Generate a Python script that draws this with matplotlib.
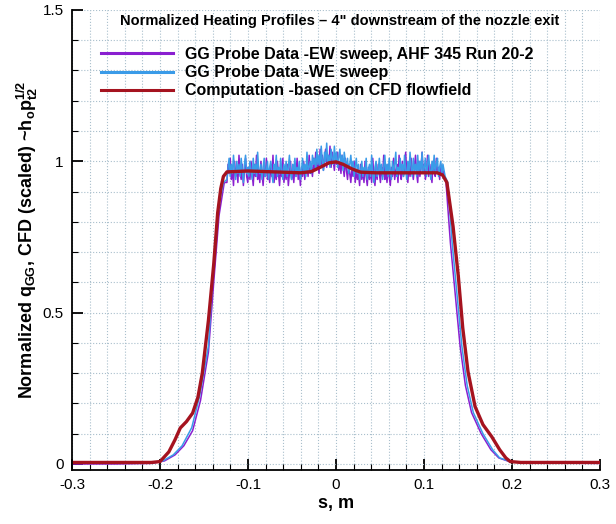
import numpy as np
import matplotlib
matplotlib.use("Agg")
import matplotlib.pyplot as plt
from matplotlib.ticker import MultipleLocator

# --- Data ---
# computation based on CFD flowfield
s_cfd = [-0.3, -0.21, -0.2, -0.19, -0.183, -0.177, -0.17, -0.163, -0.157, -0.152,
         -0.145, -0.139, -0.1345, -0.131, -0.128, -0.124, -0.1, -0.07, -0.04, -0.028,
         -0.018, -0.008, 0.0, 0.008, 0.018, 0.028, 0.045, 0.08, 0.115, 0.121,
         0.126, 0.133, 0.139, 0.144, 0.15, 0.158, 0.167, 0.177, 0.186, 0.193,
         0.198, 0.21, 0.3]
q_cfd = [0.005, 0.005, 0.008, 0.04, 0.08, 0.119, 0.14, 0.168, 0.22, 0.30,
         0.475, 0.66, 0.83, 0.91, 0.95, 0.965, 0.968, 0.965, 0.962, 0.966,
         0.98, 0.995, 0.998, 0.99, 0.975, 0.964, 0.962, 0.962, 0.962, 0.955,
         0.93, 0.785, 0.62, 0.45, 0.305, 0.19, 0.13, 0.09, 0.047, 0.02,
         0.008, 0.005, 0.005]

# GG probe, EW sweep: flanks + plateau
s_ew_left = [-0.3, -0.25, -0.21, -0.195, -0.183, -0.173, -0.163, -0.154, -0.145, -0.139, -0.133, -0.127]
q_ew_left = [0.0, 0.0, 0.002, 0.01, 0.03, 0.06, 0.11, 0.21, 0.37, 0.60, 0.82, 0.93]
s_ew_right = [0.125, 0.130, 0.1355, 0.141, 0.147, 0.154, 0.165, 0.176, 0.185, 0.197, 0.22, 0.3]
q_ew_right = [0.93, 0.73, 0.56, 0.39, 0.26, 0.17, 0.10, 0.047, 0.02, 0.008, 0.003, 0.002]
q_ew_plateau = [
    0.93, 0.99, 0.96, 1.01, 0.94, 0.97, 0.92, 1.00, 0.95, 0.98,
    0.93, 1.02, 0.96, 0.94, 0.99, 0.92, 0.97, 1.01, 0.95, 0.93,
    0.98, 0.94, 1.00, 0.96, 0.92, 0.99, 0.95, 1.02, 0.94, 0.97,
    0.93, 1.00, 0.96, 0.92, 0.98, 0.95, 1.01, 0.94, 0.97, 0.93,
    0.99, 0.95, 1.02, 0.93, 0.97, 0.94, 1.00, 0.96, 0.92, 0.98,
    0.95, 1.01, 0.93, 0.97, 0.94, 0.99, 0.92, 0.96, 1.00, 0.94,
    0.97, 0.93, 0.99, 0.95, 1.01, 0.94, 0.97, 0.92, 0.98, 0.95,
    1.00, 0.94, 0.97, 0.99, 0.95, 1.02, 0.96, 0.98, 0.95, 1.01,
    0.97, 1.03, 0.98, 1.00, 0.96, 1.04, 0.99, 1.02, 0.97, 1.01,
    1.04, 0.98, 1.02, 0.99, 1.05, 0.98, 1.03, 1.00, 0.97, 1.02,
    0.99, 1.03, 0.97, 1.00, 0.96, 1.02, 0.98, 0.95, 1.01, 0.97,
    0.94, 0.99, 0.96, 0.93, 0.98, 0.95, 1.00, 0.93, 0.97, 0.94,
    0.96, 0.92, 0.99, 0.94, 0.97, 0.93, 1.00, 0.95, 0.92, 0.98,
    0.94, 0.97, 0.93, 1.01, 0.95, 0.92, 0.98, 0.94, 0.99, 0.96,
    0.93, 0.98, 0.95, 1.02, 0.94, 0.97, 0.93, 0.99, 0.95, 0.92,
    0.98, 0.95, 1.01, 0.94, 0.97, 0.99, 0.93, 1.02, 0.96, 0.94,
    1.00, 0.95, 0.97, 1.03, 0.96, 0.93, 0.99, 0.95, 1.01, 0.97,
    0.94, 0.98, 1.02, 0.96, 0.93, 1.00, 0.95, 0.98, 1.03, 0.96,
    0.99, 0.94, 0.97, 1.02, 0.95, 0.99, 0.96, 0.93, 1.00, 0.97,
    0.95, 1.01, 0.96, 0.98, 0.94, 0.99, 0.96, 0.97, 0.95, 0.94]

# GG probe, WE sweep
s_we_left = [-0.3, -0.25, -0.21, -0.197, -0.185, -0.175, -0.164, -0.155, -0.145, -0.14, -0.134, -0.128]
q_we_left = [0.003, 0.003, 0.004, 0.01, 0.03, 0.06, 0.12, 0.225, 0.39, 0.62, 0.84, 0.93]
s_we_right = [0.127, 0.132, 0.1375, 0.143, 0.149, 0.156, 0.167, 0.178, 0.186, 0.198, 0.22, 0.3]
q_we_right = [0.93, 0.73, 0.56, 0.39, 0.26, 0.17, 0.10, 0.047, 0.02, 0.008, 0.004, 0.003]
q_we_plateau = [
    0.94, 0.98, 1.01, 0.95, 0.99, 0.96, 1.02, 0.97, 0.94, 1.00,
    0.96, 0.99, 0.95, 1.01, 0.97, 0.93, 0.99, 1.02, 0.96, 0.98,
    0.95, 1.00, 0.97, 0.94, 1.01, 0.96, 0.99, 0.95, 1.03, 0.97,
    0.96, 0.99, 0.94, 0.98, 1.01, 0.95, 0.97, 1.00, 0.94, 0.98,
    1.00, 0.96, 0.93, 0.99, 0.97, 1.02, 0.95, 0.98, 0.96, 1.01,
    0.97, 0.94, 0.99, 0.96, 1.00, 0.95, 0.98, 1.02, 0.96, 0.94,
    0.99, 0.97, 1.01, 0.95, 0.98, 0.96, 1.00, 0.94, 0.97, 1.01,
    0.96, 0.99, 0.95, 1.03, 0.97, 0.98, 1.00, 0.96, 1.02, 0.99,
    1.01, 0.97, 1.04, 0.99, 1.02, 0.98, 1.05, 1.00, 0.97, 1.03,
    1.00, 1.06, 0.99, 1.02, 0.98, 1.04, 1.01, 0.99, 1.05, 1.00,
    1.03, 0.98, 1.01, 1.04, 0.99, 1.02, 0.97, 1.03, 1.00, 0.98,
    1.01, 0.96, 0.99, 1.02, 0.97, 1.00, 0.95, 0.98, 1.01, 0.96,
    0.99, 0.94, 0.97, 1.00, 0.95, 0.98, 0.96, 1.01, 0.94, 0.97,
    0.99, 0.95, 1.02, 0.96, 0.93, 0.98, 1.00, 0.95, 0.97, 1.01,
    0.96, 0.99, 0.94, 0.98, 1.02, 0.96, 0.99, 0.95, 1.01, 0.97,
    0.94, 1.00, 0.96, 0.99, 1.03, 0.95, 0.98, 0.96, 1.01, 0.97,
    0.99, 0.95, 1.02, 0.97, 0.94, 1.00, 0.96, 1.03, 0.98, 0.95,
    1.01, 0.97, 0.99, 0.95, 1.02, 0.96, 1.00, 0.97, 1.03, 0.96,
    0.98, 1.01, 0.95, 0.99, 1.02, 0.97, 0.94, 1.00, 0.97, 1.02,
    0.96, 0.99, 1.01, 0.95, 0.98, 1.00, 0.96, 0.99, 0.97, 0.95]

s_plateau = np.linspace(-0.124, 0.124, len(q_we_plateau))

s_ew = np.concatenate([s_ew_left, s_plateau, s_ew_right])
q_ew = np.concatenate([q_ew_left, q_ew_plateau, q_ew_right])
s_we = np.concatenate([s_we_left, s_plateau, s_we_right])
q_we = np.concatenate([q_we_left, q_we_plateau, q_we_right])

# --- Style ---
plt.rcParams['font.family'] = ['Liberation Sans', 'DejaVu Sans']
plt.rcParams['mathtext.fontset'] = 'custom'
plt.rcParams['mathtext.rm'] = 'Liberation Sans'
plt.rcParams['mathtext.bf'] = 'Liberation Sans:bold'

fig = plt.figure(figsize=(6.16, 5.24), dpi=100)
ax = fig.add_axes([0.117, 0.103, 0.857, 0.878])

ax.plot(s_ew, q_ew, color='#8a1fd0', lw=1.1, label='GG Probe Data -EW sweep, AHF 345 Run 20-2')
ax.plot(s_we, q_we, color='#3a9be8', lw=1.1, label='GG Probe Data -WE sweep')
ax.plot(s_cfd, q_cfd, color='#a5131f', lw=2.4, label='Computation -based on CFD flowfield')

ax.set_xlim(-0.3, 0.3)
ax.set_ylim(-0.02, 1.5)
ax.xaxis.set_minor_locator(MultipleLocator(0.02))
ax.yaxis.set_minor_locator(MultipleLocator(0.1))
ax.set_xticks(np.arange(-0.3, 0.31, 0.1))
ax.set_xticklabels(['-0.3', '-0.2', '-0.1', '0', '0.1', '0.2', '0.3'])
ax.set_yticks([0, 0.5, 1, 1.5])
ax.set_yticklabels(['0', '0.5', '1', '1.5'])

ax.tick_params(which='major', direction='in', length=8, width=1.3, labelsize=11, pad=6)
ax.tick_params(which='minor', direction='in', length=4, width=0.8)
for side in ['top', 'right']:
    ax.spines[side].set_visible(False)
for side in ['left', 'bottom']:
    ax.spines[side].set_linewidth(1.3)

ax.grid(True, which='both', linestyle=':', color='#a9bfcc', lw=0.8)
ax.set_axisbelow(True)

ax.set_xlabel('s, m', fontsize=13, fontweight='bold', labelpad=2)
ax.set_ylabel(r'Normalized q$_{\mathbf{GG}}$, CFD (scaled) ~h$_{\mathbf{o}}$p$_{\mathbf{t2}}^{\mathbf{1/2}}$',
              fontsize=13, fontweight='bold', labelpad=2)

# legend title drawn as its own text, entries as a frameless legend
fig.text(340 / 616, 1 - 21 / 524, 'Normalized Heating Profiles \u2013 4" downstream of the nozzle exit',
         ha='center', va='center', fontsize=10.5, fontweight='bold')
leg = ax.legend(loc='upper left', bbox_to_anchor=(101 / 616, 1 - 47 / 524),
                bbox_transform=fig.transFigure, frameon=False,
                prop={'weight': 'bold', 'size': 11.5}, handlelength=4.5, handletextpad=0.75,
                labelspacing=0.2, borderpad=0, borderaxespad=0)
for h in leg.get_lines():
    h.set_linewidth(2.2)

fig.savefig('out.png', dpi=100)
